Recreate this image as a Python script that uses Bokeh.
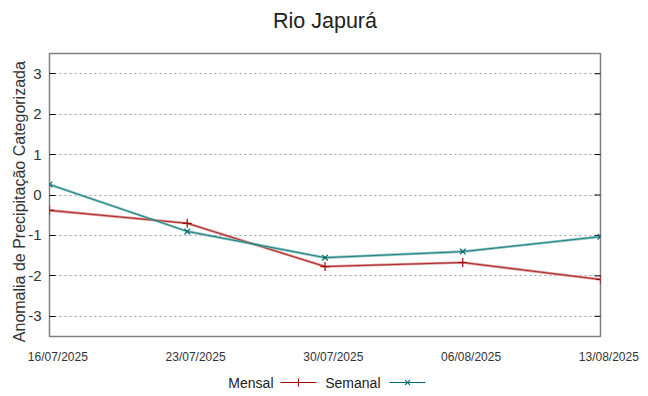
from bokeh.plotting import figure
from bokeh.layouts import column
from bokeh.models import FixedTicker, Range1d
from bokeh.core.properties import value
from bokeh.embed import file_html
from bokeh.resources import INLINE

title = "Rio Japurá"
dates = ["16/07/2025", "23/07/2025", "30/07/2025", "06/08/2025", "13/08/2025"]
mensal = [-0.38, -0.70, -1.77, -1.67, -2.09]
semanal = [0.26, -0.90, -1.55, -1.40, -1.03]
yticks = [-3, -2, -1, 0, 1, 2, 3]
ylabel = "Anomalia de Precipitação Categorizada"
series_names = ["Mensal", "Semanal"]

FONT = "Liberation Sans"
NBSP = "\u00a0"
x = list(range(len(dates)))


def strip(h):
    f = figure(width=648, height=h, output_backend="svg", toolbar_location=None,
               x_range=Range1d(49, 600), y_range=Range1d(h, 0),
               min_border_left=49, min_border_right=48, min_border_top=0, min_border_bottom=0)
    f.axis.visible = False
    f.grid.visible = False
    f.outline_line_color = None
    return f


# title strip
tp = strip(40)
tp.text([324.5], [20], text=[title], text_align="center", text_baseline="middle",
        text_font=value(FONT), text_font_size="21.5px", text_color="#222222")

p = figure(width=648, height=330, output_backend="svg", toolbar_location=None,
           x_range=Range1d(0, len(dates) - 1), y_range=Range1d(-3.5, 3.5),
           min_border_left=49, min_border_right=48, min_border_top=13, min_border_bottom=34)

p.outline_line_color = "#7f7f7f"
p.outline_line_width = 1.5

p.xaxis.ticker = FixedTicker(ticks=x)
# the date labels sit slightly right of their ticks, as in the original
p.xaxis.major_label_overrides = {i: NBSP * 5 + d for i, d in zip(x, dates)}
p.xaxis.major_label_text_font = FONT
p.xaxis.major_label_text_font_size = "12px"
p.xaxis.major_label_text_color = "#333333"
p.xaxis.major_tick_line_color = None
p.xaxis.major_tick_in = 0
p.xaxis.major_tick_out = 0
p.xaxis.minor_tick_line_color = None
p.xaxis.axis_line_color = None
p.xaxis.major_label_standoff = 13

p.yaxis.ticker = FixedTicker(ticks=yticks)
p.yaxis.major_label_overrides = {t: str(t) for t in yticks}
p.yaxis.major_label_text_font = FONT
p.yaxis.major_label_text_font_size = "15px"
p.yaxis.major_label_text_color = "#333333"
p.yaxis.major_tick_in = 6
p.yaxis.major_tick_out = 0
p.yaxis.major_tick_line_color = "black"
p.yaxis.minor_tick_line_color = None
p.yaxis.axis_line_color = None
p.yaxis.major_label_standoff = 8
p.yaxis.axis_label = ylabel + NBSP * 3
p.yaxis.axis_label_text_font = FONT
p.yaxis.axis_label_text_font_size = "16px"
p.yaxis.axis_label_text_font_style = "normal"
p.yaxis.axis_label_text_color = "#333333"
p.yaxis.axis_label_standoff = -3

p.xgrid.grid_line_color = None
p.ygrid.ticker = FixedTicker(ticks=yticks)
p.ygrid.grid_line_color = "#a0a0a0"
p.ygrid.grid_line_dash = "2 3"
p.ygrid.grid_line_width = 1

# mirrored ticks on the right edge (dash markers centred on the edge, half clipped)
p.scatter([x[-1]] * len(yticks), yticks, marker="dash", size=12, line_color="black", line_width=1)

colors_core = ["#a00808", "#006c6c"]
colors_halo = ["#cc7070", "#66adad"]
markers = ["cross", "x"]

for ys, core, halo, mk in zip([mensal, semanal], colors_core, colors_halo, markers):
    p.line(x, ys, line_color=halo, line_width=2.6, line_alpha=0.75)
    p.line(x, ys, line_color=core, line_width=0.9, line_alpha=0.85)
    p.scatter(x, ys, marker=mk, size=9 if mk == "cross" else 8, line_color=core, line_width=1.2)

# key strip below
lg = strip(26)
KY = 12
key = [(series_names[0], 273, 280, 316, colors_core[0], markers[0]),
       (series_names[1], 380, 389, 425, colors_core[1], markers[1])]
for name, tx, x0, x1, col, mk in key:
    lg.text([tx], [KY], text=[name], text_align="right", text_baseline="middle",
            text_font=value(FONT), text_font_size="14px", text_color="#222222")
    lg.line([x0, x1], [KY, KY], line_color=col, line_width=1.2)
    lg.scatter([(x0 + x1) / 2], [KY], marker=mk, size=8 if mk == "cross" else 7,
               line_color=col, line_width=1.1)

layout = column(tp, p, lg, spacing=0)
open("out.html", "w").write(file_html(layout, INLINE))
